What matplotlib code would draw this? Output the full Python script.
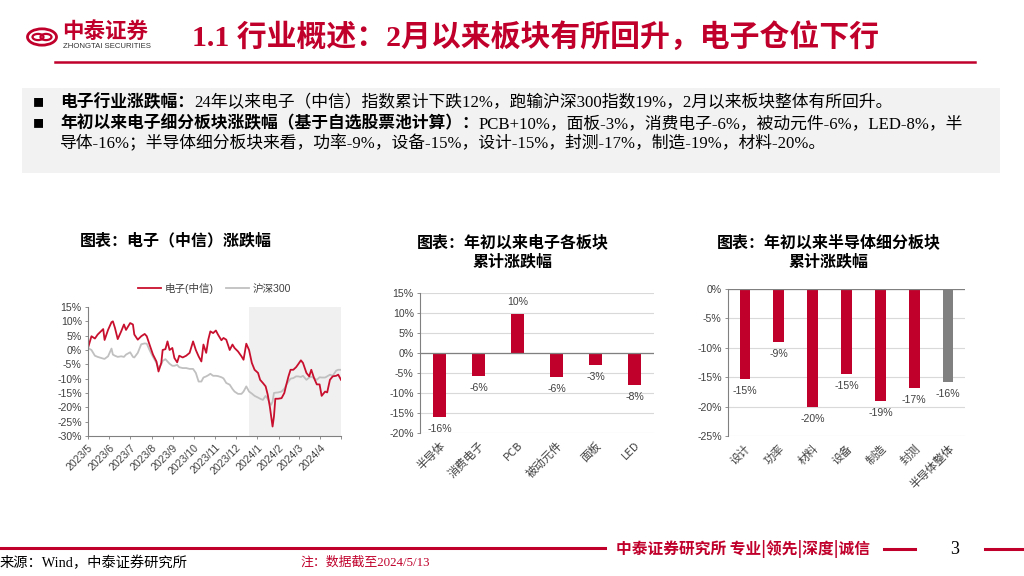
import datetime as dt
import matplotlib
matplotlib.use('Agg')
import matplotlib.pyplot as plt
from matplotlib.patches import Rectangle, Circle

# data
dates = ['2023-05-13', '2023-05-18', '2023-05-23', '2023-05-27', '2023-06-04', '2023-06-06', '2023-06-11',
         '2023-06-16', '2023-06-18', '2023-06-21', '2023-06-25', '2023-06-30', '2023-07-04', '2023-07-07',
         '2023-07-13', '2023-07-17', '2023-07-19', '2023-07-24', '2023-07-29', '2023-08-03', '2023-08-06',
         '2023-08-10', '2023-08-15', '2023-08-20', '2023-08-23', '2023-08-27', '2023-08-29', '2023-09-02',
         '2023-09-05', '2023-09-08', '2023-09-12', '2023-09-15', '2023-09-19', '2023-09-22', '2023-09-27',
         '2023-10-02', '2023-10-07', '2023-10-12', '2023-10-16', '2023-10-20', '2023-10-24', '2023-10-27',
         '2023-10-31', '2023-11-03', '2023-11-06', '2023-11-10', '2023-11-14', '2023-11-17', '2023-11-22',
         '2023-11-25', '2023-11-29', '2023-12-04', '2023-12-08', '2023-12-11', '2023-12-16', '2023-12-21',
         '2023-12-24', '2023-12-28', '2024-01-01', '2024-01-05', '2024-01-09', '2024-01-14', '2024-01-17',
         '2024-01-21', '2024-01-25', '2024-01-28', '2024-01-31', '2024-02-02', '2024-02-04', '2024-02-06',
         '2024-02-08', '2024-02-12', '2024-02-17', '2024-02-21', '2024-02-24', '2024-02-27', '2024-03-01',
         '2024-03-05', '2024-03-09', '2024-03-12', '2024-03-16', '2024-03-19', '2024-03-24', '2024-03-28',
         '2024-03-31', '2024-04-04', '2024-04-08', '2024-04-12', '2024-04-15', '2024-04-20', '2024-04-23',
         '2024-04-27', '2024-05-01', '2024-05-06', '2024-05-09', '2024-05-13']

electronics = [0.7, 4.8, 4.0, 5.4, 7.3, 3.5, 7.0, 9.7, 10.0, 7.7,
               3.8, 6.5, 8.9, 7.0, 9.4, 8.9, 5.4, 3.6, 4.8, 5.6,
               4.8, 1.9, -1.6, -4.0, -7.5, -4.5, 0.0, 0.3, 3.0, 0.0,
               0.7, -2.8, -4.3, -2.0, -2.6, -2.0, -1.0, 3.0, 0.0, -2.2,
               -4.0, 1.9, -1.0, 3.6, 6.5, 5.9, 6.8, 5.4, 3.4, 4.2,
               3.6, 0.0, 1.9, 0.7, -0.5, -2.2, -3.4, 2.2, 0.0, -4.5,
               -6.9, -8.0, -10.4, -11.5, -12.7, -15.6, -19.7, -23.2, -26.7, -23.2,
               -17.0, -17.0, -16.8, -15.0, -12.0, -9.2, -6.9, -6.9, -6.0, -5.0,
               -3.6, -4.5, -8.0, -9.2, -6.9, -9.8, -12.0, -12.0, -16.0, -14.5,
               -14.8, -10.4, -9.2, -9.0, -8.6, -10.4]

hs300 = [0.7, 0.0, -2.0, -2.4, -3.0, -3.1, -2.2, 0.5, -1.6, -2.0,
         -2.4, -2.2, -2.4, -1.6, -0.8, -2.4, -2.6, -1.0, 2.0, 2.3,
         2.2, 0.0, -2.4, -4.5, -6.3, -5.0, -3.8, -3.2, -4.0, -4.8,
         -5.5, -5.5, -5.2, -6.0, -6.3, -6.3, -6.6, -6.6, -8.0, -11.0,
         -11.0, -9.6, -9.2, -8.8, -8.3, -9.0, -9.0, -9.1, -9.5, -9.9,
         -11.5, -12.1, -13.6, -14.5, -15.3, -15.3, -14.5, -12.7, -14.5, -15.2,
         -16.0, -16.6, -17.0, -17.4, -16.0, -17.0, -18.5, -19.1, -18.0, -15.0,
         -14.9, -14.8, -14.5, -13.5, -12.1, -11.0, -10.0, -9.8, -9.2, -9.2,
         -9.4, -9.0, -10.4, -9.6, -9.3, -9.8, -10.4, -9.5, -9.6, -9.6,
         -9.2, -8.6, -9.0, -7.2, -6.9, -6.9]

month_ticks = ['2023-05-13', '2023-06-13', '2023-07-13', '2023-08-13', '2023-09-13', '2023-10-13',
               '2023-11-13', '2023-12-13', '2024-01-13', '2024-02-13', '2024-03-13', '2024-04-13', '2024-05-13']
month_labels = ['2023/5', '2023/6', '2023/7', '2023/8', '2023/9', '2023/10', '2023/11',
                '2023/12', '2024/1', '2024/2', '2024/3', '2024/4', '']

sectors = ['半导体', '消费电子', 'PCB', '被动元件', '面板', 'LED']
sector_chg = [-15.9, -5.8, 9.7, -5.9, -3.1, -8.1]
sector_lbl = ['-16%', '-6%', '10%', '-6%', '-3%', '-8%']

semi = ['设计', '功率', '材料', '设备', '制造', '封测', '半导体整体']
semi_chg = [-15.3, -9.0, -20.1, -14.5, -19.0, -16.8, -15.8]
semi_lbl = ['-15%', '-9%', '-20%', '-15%', '-19%', '-17%', '-16%']

RED = '#c0002b'
CJK = ['Noto Sans CJK SC', 'DejaVu Sans']
SERIF = ['Liberation Serif', 'Noto Sans CJK SC']
plt.rcParams['font.family'] = ['Liberation Sans', 'Noto Sans CJK SC']

W, H = 1024, 576
fig = plt.figure(figsize=(10.24, 5.76), dpi=100)


def fx(x):
    return x / W


def fy(y):
    return 1 - y / H


def box(x0, y0, x1, y1):
    return [fx(x0), fy(y1), fx(x1 - x0), (y1 - y0) / H]


# header / logo
fig.add_artist(Circle((fx(42), fy(37)), 14.5 / W, transform=fig.transFigure, fill=False,
                      ec=RED, lw=2))
fig.add_artist(Circle((fx(38), fy(37)), 5.5 / W, transform=fig.transFigure, fill=False, ec=RED, lw=1.6))
fig.add_artist(Circle((fx(46), fy(37)), 5.5 / W, transform=fig.transFigure, fill=False, ec=RED, lw=1.6))
fig.text(fx(62), fy(31), '中泰证券', family=CJK, fontsize=15.5, fontweight='bold', color=RED, va='center')
fig.text(fx(63), fy(46), 'ZHONGTAI SECURITIES', fontsize=5.6, color='#333333', va='center')
fig.text(fx(192), fy(37), '1.1 行业概述：2月以来板块有所回升，电子仓位下行', family=SERIF,
         fontsize=21.5, fontweight='bold', color=RED, va='center')
fig.add_artist(plt.Line2D([fx(55), fx(975)], [fy(62), fy(62)], color=RED, lw=1.8))

# summary box
fig.add_artist(Rectangle((fx(22), fy(173)), fx(978), 85 / H, transform=fig.transFigure,
                         fc='#f2f2f2', ec='none', zorder=0))
renderer = fig.canvas.get_renderer()
BODY_FS = 12.1


def rich_line(x, y, bold, rest):
    t = fig.text(fx(x), fy(y), bold, family=SERIF, fontsize=BODY_FS, fontweight='bold', va='center')
    bb = t.get_window_extent(renderer)
    fig.text(bb.x1 / W, fy(y), rest, family=SERIF, fontsize=BODY_FS, va='center')


fig.text(fx(33), fy(103), '■', family=CJK, fontsize=8, va='center')
fig.text(fx(33), fy(124), '■', family=CJK, fontsize=8, va='center')
rich_line(60, 103, '电子行业涨跌幅：', '24年以来电子（中信）指数累计下跌12%，跑输沪深300指数19%，2月以来板块整体有所回升。')
rich_line(60, 124, '年初以来电子细分板块涨跌幅（基于自选股票池计算）：',
          'PCB+10%，面板-3%，消费电子-6%，被动元件-6%，LED-8%，半')
fig.text(fx(60), fy(144), '导体-16%；半导体细分板块来看，功率-9%，设备-15%，设计-15%，封测-17%，制造-19%，材料-20%。',
         family=SERIF, fontsize=BODY_FS, va='center')

# chart titles
TFS = 11.5
fig.text(fx(176), fy(240), '图表：电子（中信）涨跌幅', family=CJK, fontsize=TFS, fontweight='bold', ha='center', va='center')
fig.text(fx(513), fy(242), '图表：年初以来电子各板块', family=CJK, fontsize=TFS, fontweight='bold', ha='center', va='center')
fig.text(fx(513), fy(262), '累计涨跌幅', family=CJK, fontsize=TFS, fontweight='bold', ha='center', va='center')
fig.text(fx(829), fy(242), '图表：年初以来半导体细分板块', family=CJK, fontsize=TFS, fontweight='bold', ha='center', va='center')
fig.text(fx(829), fy(262), '累计涨跌幅', family=CJK, fontsize=TFS, fontweight='bold', ha='center', va='center')

TICK_FS = 7.6
GRAY_TXT = '#404040'

# line chart
ax1 = fig.add_axes(box(88, 307, 341, 436))
d = [dt.datetime.strptime(s, '%Y-%m-%d') for s in dates]
ax1.axvspan(dt.datetime(2024, 1, 1), d[-1], color='#f0f0f0', lw=0, zorder=0)
ax1.plot(d, hs300, color='#c0c0c0', lw=1.3, label='沪深300')
ax1.plot(d, electronics, color='#c8102e', lw=1.3, label='电子(中信)')
ax1.set_xlim(d[0], d[-1])
ax1.set_ylim(-30, 15)
ax1.set_yticks(range(-30, 16, 5))
ax1.set_yticklabels([f'{v}%' for v in range(-30, 16, 5)])
tk = [dt.datetime.strptime(s, '%Y-%m-%d') for s in month_ticks]
ax1.set_xticks(tk)
ax1.set_xticklabels(month_labels, rotation=45, ha='right', rotation_mode='anchor')
for s in ['top', 'right']:
    ax1.spines[s].set_visible(False)
for s in ['left', 'bottom']:
    ax1.spines[s].set_color('#808080')
    ax1.spines[s].set_linewidth(0.8)
ax1.tick_params(labelsize=TICK_FS, colors=GRAY_TXT, length=2.5, width=0.6, pad=2)
ax1.tick_params(axis='both', color='#808080')
h, l = ax1.get_legend_handles_labels()
ax1.legend(h[::-1], l[::-1], loc='lower center', bbox_to_anchor=(0.5, 1.07), ncol=2, frameon=False,
           fontsize=TICK_FS, handlelength=2.2, columnspacing=1.2, handletextpad=0.3, borderaxespad=0,
           labelcolor=GRAY_TXT)


def bar_panel(ax, cats, vals, labels, colors, ylo, yhi):
    pos = list(range(len(cats)))
    ax.bar(pos, vals, width=0.32, color=colors, zorder=3)
    ax.set_xlim(-0.5, len(cats) - 0.5)
    ax.set_ylim(ylo, yhi)
    ticks = list(range(ylo, yhi + 1, 5))
    ax.set_yticks(ticks)
    ax.set_yticklabels([f'{v}%' for v in ticks])
    ax.grid(axis='y', color='#d9d9d9', lw=0.8, zorder=0)
    ax.axhline(0, color='#808080', lw=0.9, zorder=4)
    for s in ['top', 'right', 'bottom']:
        ax.spines[s].set_visible(False)
    ax.spines['left'].set_color('#808080')
    ax.spines['left'].set_linewidth(0.8)
    ax.set_xticks(pos)
    ax.set_xticklabels(cats, rotation=45, ha='right', rotation_mode='anchor', family=CJK)
    ax.tick_params(axis='x', length=0, pad=5, labelsize=TICK_FS + 0.6, colors=GRAY_TXT)
    ax.tick_params(axis='y', length=2.5, width=0.6, color='#808080', labelsize=TICK_FS, colors=GRAY_TXT, pad=2)
    for p, v, t in zip(pos, vals, labels):
        off = 5 if v > 0 else -5
        ax.annotate(t, (p, v), xytext=(0, off), textcoords='offset points', ha='center',
                    va='bottom' if v > 0 else 'top', fontsize=TICK_FS, color=GRAY_TXT)


ax2 = fig.add_axes(box(420, 293, 654, 433))
bar_panel(ax2, sectors, sector_chg, sector_lbl, RED, -20, 15)

ax3 = fig.add_axes(box(728, 289, 965, 436))
bar_panel(ax3, semi, semi_chg, semi_lbl, [RED] * 6 + ['#808080'], -25, 0)

# footer
fig.add_artist(plt.Line2D([0, fx(605)], [fy(548), fy(548)], color=RED, lw=2.2))
fig.text(fx(616), fy(549), '中泰证券研究所 专业|领先|深度|诚信', family=CJK, fontsize=11.3, fontweight='bold',
         color=RED, va='center')
fig.add_artist(plt.Line2D([fx(884), fx(915)], [fy(549), fy(549)], color=RED, lw=2.2))
fig.text(fx(950), fy(550), '3', family=SERIF, fontsize=13, va='center')
fig.add_artist(plt.Line2D([fx(985), 1], [fy(549), fy(549)], color=RED, lw=2.2))
fig.text(fx(0), fy(563), '来源：Wind，中泰证券研究所', family=SERIF, fontsize=10.3, va='center')
fig.text(fx(300), fy(563), '注：数据截至2024/5/13', family=SERIF, fontsize=9.3, color=RED, va='center')

fig.savefig('out.png', dpi=100)
